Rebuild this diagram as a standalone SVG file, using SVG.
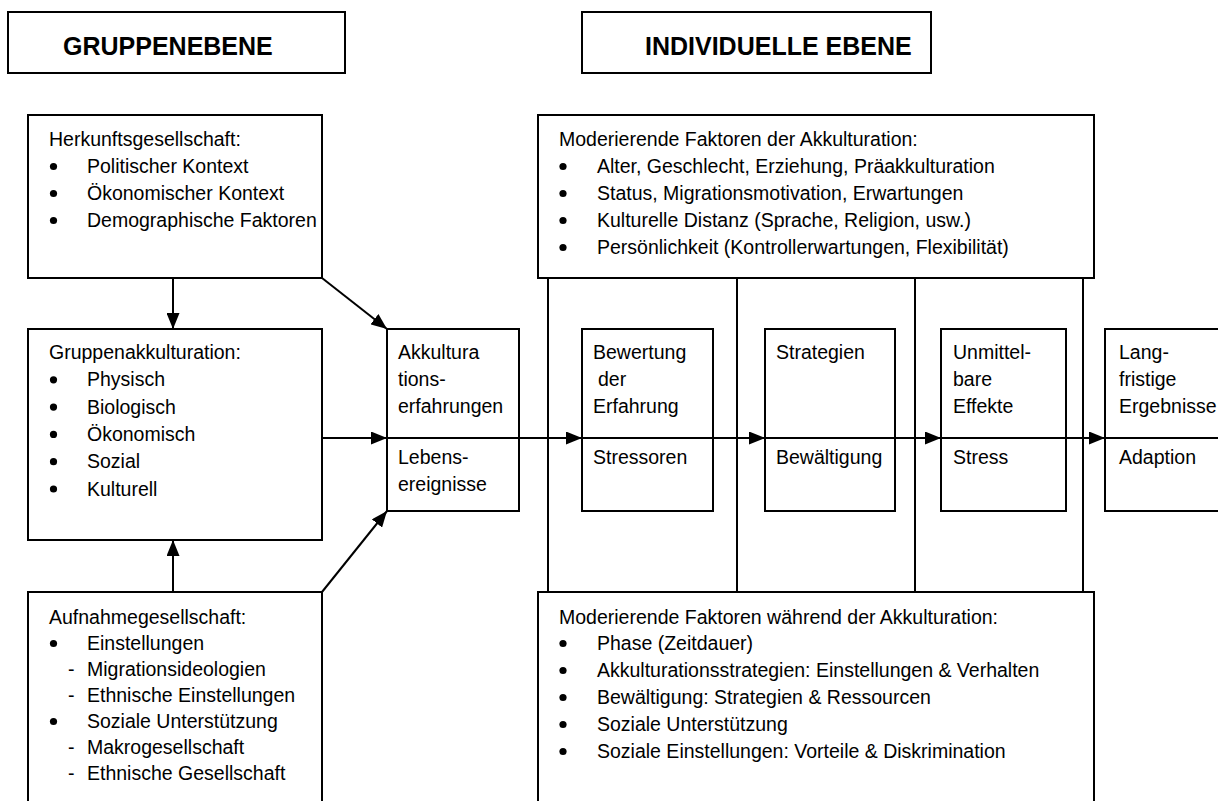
<svg xmlns="http://www.w3.org/2000/svg" width="1218" height="801" viewBox="0 0 1218 801">
  <style>
    .box { fill: #fff; stroke: #000; stroke-width: 2; }
    .ln { fill: none; stroke: #000; stroke-width: 2; }
    .t { font-family: "Liberation Sans", Arial, sans-serif; font-size: 19.5px; fill: #000; }
    .h { font-family: "Liberation Sans", Arial, sans-serif; font-size: 25px; font-weight: bold; fill: #000; }
    .dot { fill: #000; }
  </style>
  <defs>
    <marker id="arrow" markerUnits="userSpaceOnUse" markerWidth="16" markerHeight="13" refX="16" refY="6.5" orient="auto">
      <path d="M0,0 L16,6.5 L0,13 z" fill="#000"/>
    </marker>
  </defs>
  <rect width="1218" height="801" fill="#fff"/>

  <!-- level headers -->
  <g id="header-gruppe">
    <rect class="box" x="8" y="12" width="337" height="61"/>
    <text class="h" x="63" y="55">GRUPPENEBENE</text>
  </g>
  <g id="header-individuell">
    <rect class="box" x="582" y="12" width="349" height="61"/>
    <text class="h" x="645" y="55">INDIVIDUELLE EBENE</text>
  </g>

  <!-- group level -->
  <g id="herkunft">
    <rect class="box" x="28" y="115" width="294" height="163"/>
    <text class="t" x="49" y="146">Herkunftsgesellschaft:</text>
    <circle class="dot" cx="53.5" cy="166.5" r="3.6"/>
    <text class="t" x="87" y="173">Politischer Kontext</text>
    <circle class="dot" cx="53.5" cy="193.5" r="3.6"/>
    <text class="t" x="87" y="200">Ökonomischer Kontext</text>
    <circle class="dot" cx="53.5" cy="220.5" r="3.6"/>
    <text class="t" x="87" y="227">Demographische Faktoren</text>
  </g>

  <g id="gruppenakkulturation">
    <rect class="box" x="28" y="329" width="294" height="211"/>
    <text class="t" x="49" y="359">Gruppenakkulturation:</text>
    <circle class="dot" cx="53.5" cy="379.8" r="3.6"/>
    <text class="t" x="87" y="386.3">Physisch</text>
    <circle class="dot" cx="53.5" cy="407.1" r="3.6"/>
    <text class="t" x="87" y="413.6">Biologisch</text>
    <circle class="dot" cx="53.5" cy="434.4" r="3.6"/>
    <text class="t" x="87" y="440.9">Ökonomisch</text>
    <circle class="dot" cx="53.5" cy="461.7" r="3.6"/>
    <text class="t" x="87" y="468.2">Sozial</text>
    <circle class="dot" cx="53.5" cy="489" r="3.6"/>
    <text class="t" x="87" y="495.5">Kulturell</text>
  </g>

  <g id="aufnahme">
    <rect class="box" x="28" y="592" width="294" height="240"/>
    <text class="t" x="49" y="624">Aufnahmegesellschaft:</text>
    <circle class="dot" cx="53.5" cy="643.5" r="3.6"/>
    <text class="t" x="87" y="650">Einstellungen</text>
    <text class="t" x="68" y="676">-</text>
    <text class="t" x="87" y="676">Migrationsideologien</text>
    <text class="t" x="68" y="702">-</text>
    <text class="t" x="87" y="702">Ethnische Einstellungen</text>
    <circle class="dot" cx="53.5" cy="721.5" r="3.6"/>
    <text class="t" x="87" y="728">Soziale Unterstützung</text>
    <text class="t" x="68" y="754">-</text>
    <text class="t" x="87" y="754">Makrogesellschaft</text>
    <text class="t" x="68" y="780">-</text>
    <text class="t" x="87" y="780">Ethnische Gesellschaft</text>
  </g>

  <!-- moderating factors -->
  <g id="moderierend-vorher">
    <rect class="box" x="538" y="115" width="556" height="163"/>
    <text class="t" x="559" y="146">Moderierende Faktoren der Akkulturation:</text>
    <circle class="dot" cx="563" cy="166.5" r="3.6"/>
    <text class="t" x="597" y="173">Alter, Geschlecht, Erziehung, Präakkulturation</text>
    <circle class="dot" cx="563" cy="193.5" r="3.6"/>
    <text class="t" x="597" y="200">Status, Migrationsmotivation, Erwartungen</text>
    <circle class="dot" cx="563" cy="220.5" r="3.6"/>
    <text class="t" x="597" y="227">Kulturelle Distanz (Sprache, Religion, usw.)</text>
    <circle class="dot" cx="563" cy="247.5" r="3.6"/>
    <text class="t" x="597" y="254">Persönlichkeit (Kontrollerwartungen, Flexibilität)</text>
  </g>

  <g id="moderierend-waehrend">
    <rect class="box" x="538" y="592" width="556" height="240"/>
    <text class="t" x="559" y="624">Moderierende Faktoren während der Akkulturation:</text>
    <circle class="dot" cx="563" cy="643.5" r="3.6"/>
    <text class="t" x="597" y="650">Phase (Zeitdauer)</text>
    <circle class="dot" cx="563" cy="670.5" r="3.6"/>
    <text class="t" x="597" y="677">Akkulturationsstrategien: Einstellungen &amp; Verhalten</text>
    <circle class="dot" cx="563" cy="697.5" r="3.6"/>
    <text class="t" x="597" y="704">Bewältigung: Strategien &amp; Ressourcen</text>
    <circle class="dot" cx="563" cy="724.5" r="3.6"/>
    <text class="t" x="597" y="731">Soziale Unterstützung</text>
    <circle class="dot" cx="563" cy="751.5" r="3.6"/>
    <text class="t" x="597" y="758">Soziale Einstellungen: Vorteile &amp; Diskrimination</text>
  </g>

  <!-- separators between the two moderating boxes -->
  <g id="separators">
    <line class="ln" x1="548" y1="278" x2="548" y2="592"/>
    <line class="ln" x1="737" y1="278" x2="737" y2="592"/>
    <line class="ln" x1="915" y1="278" x2="915" y2="592"/>
    <line class="ln" x1="1083" y1="278" x2="1083" y2="592"/>
  </g>

  <!-- process stages -->
  <g id="akkulturationserfahrungen">
    <rect class="box" x="387" y="329" width="132" height="182"/>
    <line class="ln" x1="387" y1="438" x2="519" y2="438"/>
    <text class="t" x="398" y="359">Akkultura</text>
    <text class="t" x="398" y="386">tions-</text>
    <text class="t" x="398" y="413">erfahrungen</text>
    <text class="t" x="398" y="464">Lebens-</text>
    <text class="t" x="398" y="491">ereignisse</text>
  </g>
  <g id="bewertung">
    <rect class="box" x="582" y="329" width="131" height="182"/>
    <line class="ln" x1="582" y1="438" x2="713" y2="438"/>
    <text class="t" x="593" y="359">Bewertung</text>
    <text class="t" x="598" y="386">der</text>
    <text class="t" x="593" y="413">Erfahrung</text>
    <text class="t" x="593" y="464">Stressoren</text>
  </g>
  <g id="strategien">
    <rect class="box" x="765" y="329" width="130" height="182"/>
    <line class="ln" x1="765" y1="438" x2="895" y2="438"/>
    <text class="t" x="776" y="359">Strategien</text>
    <text class="t" x="776" y="464">Bewältigung</text>
  </g>
  <g id="effekte">
    <rect class="box" x="941" y="329" width="125" height="182"/>
    <line class="ln" x1="941" y1="438" x2="1066" y2="438"/>
    <text class="t" x="953" y="359">Unmittel-</text>
    <text class="t" x="953" y="386">bare</text>
    <text class="t" x="953" y="413">Effekte</text>
    <text class="t" x="953" y="464">Stress</text>
  </g>
  <g id="ergebnisse">
    <rect class="box" x="1105" y="329" width="130" height="182"/>
    <line class="ln" x1="1105" y1="438" x2="1218" y2="438"/>
    <text class="t" x="1119" y="359">Lang-</text>
    <text class="t" x="1119" y="386">fristige</text>
    <text class="t" x="1119" y="413">Ergebnisse</text>
    <text class="t" x="1119" y="464">Adaption</text>
  </g>

  <!-- connectors -->
  <g id="connectors">
    <line class="ln" x1="173" y1="278" x2="173" y2="329" marker-end="url(#arrow)"/>
    <line class="ln" x1="173" y1="592" x2="173" y2="540" marker-end="url(#arrow)"/>
    <line class="ln" x1="322" y1="278" x2="387" y2="329" marker-end="url(#arrow)"/>
    <line class="ln" x1="322" y1="592" x2="387" y2="511" marker-end="url(#arrow)"/>
    <line class="ln" x1="322" y1="438" x2="387" y2="438" marker-end="url(#arrow)"/>
    <line class="ln" x1="497" y1="438" x2="582" y2="438" marker-end="url(#arrow)"/>
    <line class="ln" x1="690" y1="438" x2="765" y2="438" marker-end="url(#arrow)"/>
    <line class="ln" x1="885" y1="438" x2="941" y2="438" marker-end="url(#arrow)"/>
    <line class="ln" x1="1054" y1="438" x2="1105" y2="438" marker-end="url(#arrow)"/>
  </g>
</svg>
